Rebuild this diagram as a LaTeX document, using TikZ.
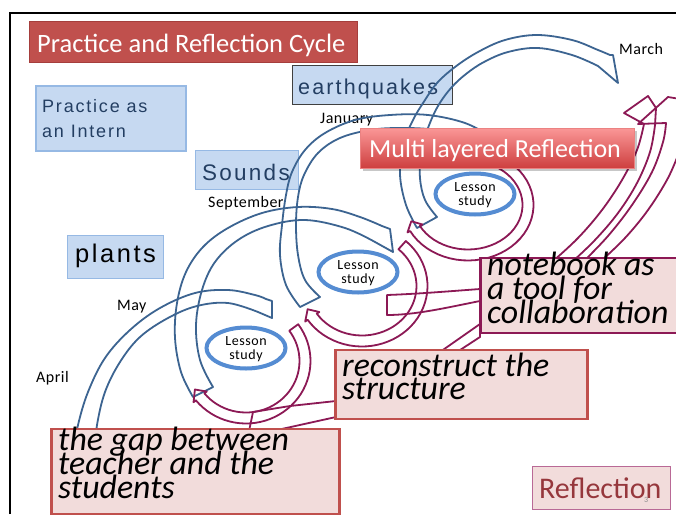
\documentclass[tikz,border=0pt]{standalone}
\usepackage{fontspec}
\setmainfont{Carlito}
\newfontfamily\gothfont[LetterSpace=10]{Liberation Sans}
\newfontfamily\labfont[LetterSpace=3]{Carlito}
\newfontfamily\lessfont[LetterSpace=4]{Carlito}
\usetikzlibrary{shapes.geometric}
\definecolor{titlered}{RGB}{192,80,77}
\definecolor{titleborder}{RGB}{165,62,60}
\definecolor{lblue}{RGB}{198,217,241}
\definecolor{lblueb}{RGB}{150,185,228}
\definecolor{navytext}{RGB}{35,62,98}
\definecolor{arcblue}{RGB}{60,100,145}
\definecolor{ellblue}{RGB}{85,140,210}
\definecolor{maroonc}{RGB}{140,25,85}
\definecolor{pinkfill}{RGB}{242,220,219}
\definecolor{redborder}{RGB}{192,80,77}
\definecolor{reflborder}{RGB}{185,105,150}
\definecolor{refltext}{RGB}{150,55,60}
\definecolor{multitop}{RGB}{250,150,150}
\definecolor{multibot}{RGB}{205,62,62}
\definecolor{multiborder}{RGB}{235,130,130}
\newcommand{\maroonarc}[7]{%
  \draw[mband] plot[domain=#6:#7,samples=40] ({#1+(#3+#5/2)*cos(\x)},{#2+(#4+#5/2)*sin(\x)})
   -- ({#1+(#3+#5/2+3)*cos(#7)},{#2+(#4+#5/2+3)*sin(#7)})
   -- ({#1+#3*cos(#7+9)},{#2+#4*sin(#7+9)})
   -- ({#1+(#3-#5/2-3)*cos(#7)},{#2+(#4-#5/2-3)*sin(#7)})
   -- plot[domain=#7:#6,samples=40] ({#1+(#3-#5/2)*cos(\x)},{#2+(#4-#5/2)*sin(\x)})
   -- cycle;}
\begin{document}
\begin{tikzpicture}[x=1pt,y=-1pt,
  bband/.style={draw=arcblue,line width=1.8pt,line join=round},
  mband/.style={draw=maroonc,line width=1.8pt,line join=round},
  bluebox/.style={fill=lblue,draw=lblueb,line width=1pt,inner sep=0pt,anchor=north west},
  pinkbox/.style={fill=pinkfill,line width=2.6pt,inner sep=0pt,anchor=north west},
  txt/.style={anchor=base west,inner sep=0pt},
  lessonell/.style={ellipse,draw=ellblue,line width=4pt,fill=white,inner sep=0pt,minimum width=79pt,minimum height=41pt},
  lesstext/.style={anchor=base,inner sep=0pt,font=\lessfont\fontsize{14}{15}\selectfont},
  month/.style={txt,font=\labfont\fontsize{16}{18}\selectfont},
  bigital/.style={txt,font=\fontsize{33.8}{24}\selectfont\itshape}
]
\useasboundingbox (0,0) rectangle (676,514);
\clip (0,0) rectangle (676,514);
\fill[white] (0,0) rectangle (676,514);
% frame
\draw[line width=2pt] (10,514) -- (10,12.5) -- (676,12.5);

% light blue topic boxes
\node[bluebox,draw=lblueb,line width=2pt,minimum width=150pt,minimum height=65pt] (intern) at (35,85) {};
\node[txt,text=navytext,font=\gothfont\fontsize{18}{20}\selectfont] (intern1) at (42,112) {Practice as};
\node[txt,text=navytext,font=\gothfont\fontsize{18}{20}\selectfont] (intern2) at (42,137) {an Intern};
\node[bluebox,draw=black!75,minimum width=160pt,minimum height=39pt] (eq) at (292,64.5) {};
\node[txt,text=navytext,font=\gothfont\fontsize{21.5}{24}\selectfont] (eqtext) at (298,94) {earthquakes};
\node[bluebox,minimum width=103pt,minimum height=39pt] (snd) at (195,150) {};
\node[txt,text=navytext,font=\gothfont\fontsize{22.5}{24}\selectfont] (sndtext) at (202,180) {Sounds};
\node[bluebox,minimum width=96pt,minimum height=43pt] (plt) at (67,235) {};
\node[txt,text=black,font=\gothfont\fontsize{25.5}{28}\selectfont] (plttext) at (75,262) {plants};

% month labels
\node[month] (march) at (619,54) {March};
\node[month] (jan) at (320,123) {January};
\node[month] (sep) at (208,207) {September};
\node[month] (may) at (117,310) {May};
\node[month] (apr) at (36,382) {April};

% blue circular arrows
\draw[bband] plot[smooth,tension=0.6] coordinates {(74,450) (78,425) (88,392) (105,358) (130,330) (160,308) (195,293) (228,290) (255,295) (266,299)}
  -- (272,301) -- (272,318)
  -- plot[smooth,tension=0.6] coordinates {(258,312) (228,303) (197,306) (168,318) (140,337) (120,362) (105,392) (97,425) (95,450)} -- cycle;
\draw[bband] plot[smooth,tension=0.6] coordinates {(193,397) (181,372) (175,338) (177,303) (186,272) (203,247) (228,228) (262,213) (298,207) (332,209) (360,217) (382,226)}
  -- (390,229) -- (393,252)
  -- plot[smooth,tension=0.6] coordinates {(375,242) (345,228) (305,220) (268,226) (238,240) (215,262) (202,290) (196,325) (200,360) (213,387)} -- cycle;
\draw[bband] plot[smooth,tension=0.6] coordinates {(300,307) (286,285) (280,255) (282,225) (286,195) (292,172) (305,150) (325,133) (355,120) (390,115) (428,115) (465,123) (492,137)}
  -- (500,139) -- (505,160)
  -- plot[smooth,tension=0.6] coordinates {(488,155) (465,140) (435,130) (400,128) (370,130) (340,138) (318,153) (304,175) (298,197) (296,225) (298,255) (305,280) (320,297)} -- cycle;
\draw[bband] plot[smooth,tension=0.6] coordinates {(417,228) (406,205) (400,175) (403,145) (413,120) (425,100) (437,83) (455,67) (478,52) (505,40) (537,35) (572,40) (598,50) (610,55)}
  -- (613,55) -- (618,83)
  -- plot[smooth,tension=0.6] coordinates {(598,66) (572,55) (538,48) (508,52) (484,62) (466,74) (451,88) (438,106) (428,128) (421,152) (420,178) (425,200) (437,217)} -- cycle;

% maroon circular arrows
\maroonarc{246}{361}{59}{57}{11}{-36}{141}
\maroonarc{362}{286}{60}{55}{11}{-48}{146}
\maroonarc{468}{205}{60}{50}{11}{-72}{152}

% maroon connector bands
\draw[mband] (248,436) -- (253,412) -- (290,406) -- (336,401) -- (336,417) -- (250,436);
\draw[mband] (440,352) -- (480,324) -- (480,337) -- (457,352);
\draw[mband] (480,289) .. controls (440,292) and (415,294) .. (387,295) -- (387,315) .. controls (415,315) and (445,308) .. (480,301);
\draw[mband] plot[smooth,tension=0.6] coordinates {(552,262) (578,238) (602,210) (622,180) (637,150) (644,124)}
  -- (624,113) -- (648,96) -- (656,108)
  -- plot[smooth,tension=0.6] coordinates {(655,125) (650,152) (637,183) (618,213) (595,240) (572,262)};
\draw[mband] plot[smooth,tension=0.6] coordinates {(583,262) (608,236) (632,205) (652,172) (663,142) (666,123)}
  -- (638,124) -- (668,97) -- (680,99);
\draw[mband] plot[smooth,tension=0.6] coordinates {(600,262) (625,238) (648,210) (668,178) (680,150)};

% lesson study ellipses
\node[lessonell] (e1) at (246,348) {};
\node[lesstext] (e1a) at (246,345) {Lesson};
\node[lesstext] (e1b) at (246,359) {study};
\node[lessonell] (e2) at (358,272) {};
\node[lesstext] (e2a) at (358,269) {Lesson};
\node[lesstext] (e2b) at (358,283) {study};
\node[lessonell] (e3) at (475,194) {};
\node[lesstext] (e3a) at (475,191) {Lesson};
\node[lesstext] (e3b) at (475,205) {study};

% title and multi layered reflection
\node[fill=titlered,draw=titleborder,line width=1pt,minimum width=328pt,minimum height=41pt,anchor=north west,inner sep=0pt] (title) at (29,21) {};
\node[txt,text=white,font=\fontsize{26.5}{30}\selectfont] (titletext) at (37,52) {Practice and Reflection Cycle};
\fill[black,opacity=0.22] (363,131) rectangle (637,171);
\node[top color=multitop,bottom color=multibot,draw=multiborder,line width=1pt,minimum width=274pt,minimum height=40pt,anchor=north west,inner sep=0pt] (multi) at (360,128) {};
\node[txt,text=white,font=\fontsize{26}{30}\selectfont] (multitext) at (369,157) {Multi layered Reflection};

% pink reflection boxes
\node[pinkbox,draw=maroonc,minimum width=210pt,minimum height=75pt] (note) at (479,256.5) {};
\node[bigital] (note1) at (487,275) {notebook as};
\node[bigital] (note2) at (487,299) {a tool for};
\node[bigital] (note3) at (487,323) {collaboration};
\node[pinkbox,draw=redborder,minimum width=252pt,minimum height=69pt] (recon) at (334,348.5) {};
\node[bigital] (recon1) at (342,376) {reconstruct the};
\node[bigital] (recon2) at (342,399) {structure};
\node[pinkbox,draw=redborder,minimum width=288pt,minimum height=85pt] (gap) at (50,427.5) {};
\node[bigital] (gap1) at (58,450) {the gap between};
\node[bigital] (gap2) at (58,474) {teacher and the};
\node[bigital] (gap3) at (58,498) {students};
\node[pinkbox,draw=reflborder,line width=1.3pt,minimum width=138pt,minimum height=43pt] (refl) at (532,466) {};
\node[txt,text=refltext,font=\fontsize{30}{32}\selectfont] (refltext) at (539,498) {Reflection};
\node[txt,text=black!45,font=\fontsize{8}{9}\selectfont] (pagenum) at (644,502) {3};
\end{tikzpicture}
\end{document}
